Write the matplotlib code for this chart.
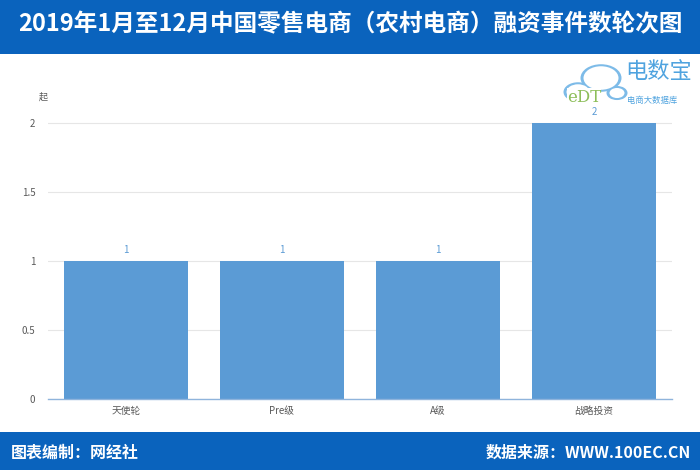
import matplotlib
matplotlib.use("Agg")
import matplotlib.pyplot as plt
from matplotlib.patches import Rectangle, Circle

plt.rcParams["font.family"] = ["Noto Sans CJK SC", "DejaVu Sans"]

categories = ["天使轮", "Pre级", "A级", "战略投资"]
counts = [1, 1, 1, 2]
y_ticks = [0, 0.5, 1, 1.5, 2]
y_tick_labels = ["0", "0.5", "1", "1.5", "2"]

TITLE = "2019年1月至12月中国零售电商（农村电商）融资事件数轮次图"
BAND_BLUE = "#0A63BD"
BAR_BLUE = "#5B9BD5"
TEXT_GRAY = "#595959"
LOGO_BLUE = "#4FA3DF"


def px(x, y):
    # pixel position (from top left) to figure fraction
    return x / 700, 1 - y / 470


fig = plt.figure(figsize=(7, 4.7), dpi=100)
fig.patch.set_facecolor("white")

# header and footer bands
fig.add_artist(Rectangle((0, 1 - 54 / 470), 1, 54 / 470, transform=fig.transFigure,
                         facecolor=BAND_BLUE, edgecolor="none", zorder=0))
fig.add_artist(Rectangle((0, 0), 1, 38 / 470, transform=fig.transFigure,
                         facecolor=BAND_BLUE, edgecolor="none", zorder=0))
fig.text(*px(350, 24), TITLE, color="white", fontsize=17, fontweight="bold",
         ha="center", va="center")
fig.text(*px(11, 453), "图表编制：网经社", color="white", fontsize=11.5,
         fontweight="bold", ha="left", va="center")
fig.text(*px(691, 453), "数据来源：WWW.100EC.CN", color="white", fontsize=11.5,
         fontweight="bold", ha="right", va="center")

# logo: cloud outline drawn as union of circles
cloud = [(578, 92, 13), (601, 78, 19), (617, 93, 9)]
for cx, cy, r in cloud:
    fig.add_artist(Circle(px(cx, cy), (r + 1.5) / 700, transform=fig.transFigure,
                          facecolor="#7DBBE8", edgecolor="none", zorder=1))
for cx, cy, r in cloud:
    fig.add_artist(Circle(px(cx, cy), (r - 1.5) / 700, transform=fig.transFigure,
                          facecolor="white", edgecolor="none", zorder=1.5))
fig.text(*px(584, 97), "eDT", color="#8DBE5A", fontsize=12,
         family="DejaVu Serif", ha="center", va="center", zorder=2,
         bbox=dict(facecolor="white", edgecolor="none", pad=0.3))
fig.text(*px(625, 72), "电数宝", color=LOGO_BLUE, fontsize=16,
         ha="left", va="center")
fig.text(*px(627, 100), "电商大数据库", color=LOGO_BLUE, fontsize=6,
         ha="left", va="center")

ax = fig.add_axes([48 / 700, 1 - 399 / 470, 624 / 700, 2.2 * 138 / 470])
ax.patch.set_alpha(0)
x = range(len(categories))
ax.bar(x, counts, width=0.795, color=BAR_BLUE, zorder=2)
for xi, v in zip(x, counts):
    ax.text(xi, v + 0.04, f"{v}", color=BAR_BLUE, fontsize=7, ha="center", va="bottom")

ax.set_xlim(-0.5, len(categories) - 0.5)
ax.set_ylim(0, 2.2)
ax.set_yticks(y_ticks)
ax.set_yticklabels(y_tick_labels)
ax.set_xticks(list(x))
ax.set_xticklabels(categories)
ax.tick_params(axis="both", length=0, labelsize=7, colors=TEXT_GRAY)
ax.tick_params(axis="y", pad=9)
ax.tick_params(axis="x", pad=5)
ax.grid(axis="y", color="#E6E6E6", linewidth=0.8, zorder=0)
for side in ["top", "right", "left"]:
    ax.spines[side].set_visible(False)
ax.spines["bottom"].set_color("#8FB4DC")
ax.spines["bottom"].set_linewidth(1)
ax.text(-0.53, 2.19, "起", fontsize=6.5, color=TEXT_GRAY, ha="center", va="center")

fig.savefig("out.png", dpi=100)
